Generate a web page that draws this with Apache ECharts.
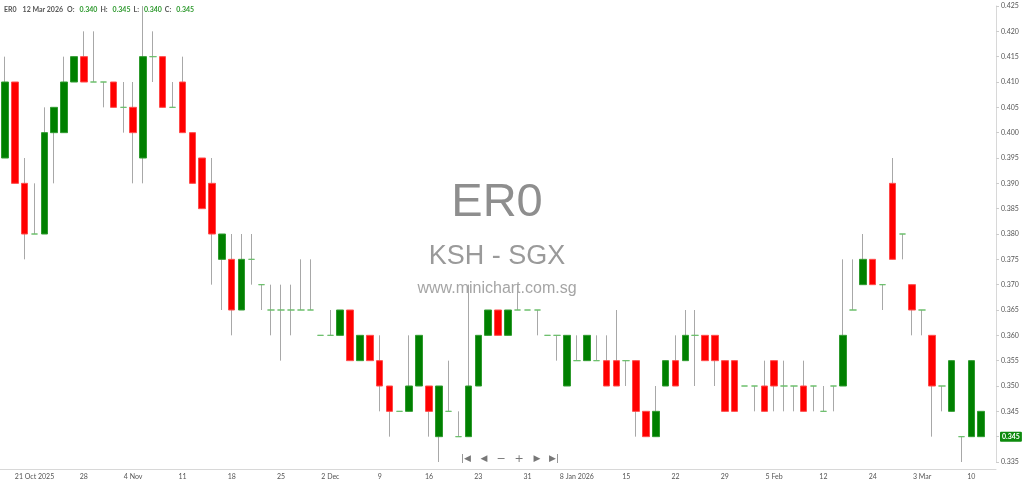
<!DOCTYPE html>
<html>
<head>
<meta charset="utf-8">
<title>ER0 KSH - SGX</title>
<script src="https://cdn.jsdelivr.net/npm/echarts@6.0.0/dist/echarts.min.js"></script>
<style>
  html, body { margin: 0; padding: 0; background: #fff; }
  #chart { width: 1024px; height: 484px; }
</style>
</head>
<body>
<div id="chart"></div>
<script>
// trading days (one candle each)
const dates = [
  '2025-10-15','2025-10-16','2025-10-17','2025-10-21','2025-10-22','2025-10-23','2025-10-24','2025-10-27','2025-10-28','2025-10-29',
  '2025-10-30','2025-10-31','2025-11-03','2025-11-04','2025-11-05','2025-11-06','2025-11-07','2025-11-10','2025-11-11','2025-11-12',
  '2025-11-13','2025-11-14','2025-11-17','2025-11-18','2025-11-19','2025-11-20','2025-11-21','2025-11-24','2025-11-25','2025-11-26',
  '2025-11-27','2025-11-28','2025-12-01','2025-12-02','2025-12-03','2025-12-04','2025-12-05','2025-12-08','2025-12-09','2025-12-10',
  '2025-12-11','2025-12-12','2025-12-15','2025-12-16','2025-12-17','2025-12-18','2025-12-19','2025-12-22','2025-12-23','2025-12-24',
  '2025-12-26','2025-12-29','2025-12-30','2025-12-31','2026-01-02','2026-01-05','2026-01-06','2026-01-07','2026-01-08','2026-01-09',
  '2026-01-12','2026-01-13','2026-01-14','2026-01-15','2026-01-16','2026-01-19','2026-01-20','2026-01-21','2026-01-22','2026-01-23',
  '2026-01-26','2026-01-27','2026-01-28','2026-01-29','2026-01-30','2026-02-02','2026-02-03','2026-02-04','2026-02-05','2026-02-06',
  '2026-02-09','2026-02-10','2026-02-11','2026-02-12','2026-02-13','2026-02-19','2026-02-20','2026-02-23','2026-02-24','2026-02-25',
  '2026-02-26','2026-02-27','2026-03-02','2026-03-03','2026-03-04','2026-03-05','2026-03-06','2026-03-09','2026-03-10','2026-03-11'
];

const opens = [
  0.395,0.410,0.390,0.380,0.380,0.400,0.400,0.410,0.415,0.410,
  0.410,0.410,0.405,0.405,0.395,0.415,0.415,0.405,0.410,0.400,
  0.395,0.390,0.375,0.375,0.365,0.375,0.370,0.365,0.365,0.365,
  0.365,0.365,0.360,0.360,0.360,0.365,0.355,0.360,0.355,0.350,
  0.345,0.345,0.350,0.350,0.340,0.345,0.340,0.340,0.350,0.360,
  0.365,0.360,0.365,0.365,0.365,0.360,0.360,0.350,0.355,0.355,
  0.355,0.355,0.355,0.355,0.355,0.345,0.340,0.350,0.355,0.355,
  0.360,0.360,0.360,0.355,0.355,0.350,0.350,0.350,0.355,0.350,
  0.350,0.350,0.350,0.345,0.350,0.350,0.365,0.370,0.375,0.370,
  0.390,0.380,0.370,0.365,0.360,0.350,0.345,0.340,0.340,0.340
];
const closes = [
  0.410,0.390,0.380,0.380,0.400,0.405,0.410,0.415,0.410,0.410,
  0.410,0.405,0.405,0.400,0.415,0.415,0.405,0.405,0.400,0.390,
  0.385,0.380,0.380,0.365,0.375,0.375,0.370,0.365,0.365,0.365,
  0.365,0.365,0.360,0.360,0.365,0.355,0.360,0.355,0.350,0.345,
  0.345,0.350,0.360,0.345,0.350,0.345,0.340,0.350,0.360,0.365,
  0.360,0.365,0.365,0.365,0.365,0.360,0.360,0.360,0.355,0.360,
  0.355,0.350,0.350,0.355,0.345,0.340,0.345,0.355,0.350,0.360,
  0.360,0.355,0.355,0.345,0.345,0.350,0.350,0.345,0.350,0.350,
  0.350,0.345,0.350,0.345,0.350,0.360,0.365,0.375,0.370,0.370,
  0.375,0.380,0.365,0.365,0.350,0.350,0.355,0.340,0.355,0.345
];
const lows = [
  0.395,0.390,0.375,0.380,0.380,0.390,0.400,0.410,0.410,0.410,
  0.405,0.405,0.400,0.390,0.390,0.410,0.405,0.405,0.400,0.390,
  0.385,0.370,0.365,0.360,0.365,0.370,0.365,0.360,0.355,0.360,
  0.365,0.365,0.360,0.360,0.360,0.355,0.355,0.355,0.345,0.340,
  0.345,0.345,0.350,0.340,0.335,0.345,0.340,0.340,0.350,0.360,
  0.360,0.360,0.365,0.365,0.360,0.360,0.355,0.350,0.355,0.355,
  0.355,0.350,0.350,0.350,0.340,0.340,0.340,0.350,0.350,0.355,
  0.350,0.355,0.350,0.345,0.345,0.350,0.345,0.345,0.345,0.345,
  0.345,0.345,0.345,0.345,0.345,0.350,0.365,0.370,0.370,0.365,
  0.375,0.375,0.360,0.360,0.340,0.345,0.345,0.335,0.340,0.340
];
const highs = [
  0.415,0.410,0.395,0.390,0.405,0.405,0.415,0.415,0.420,0.420,
  0.410,0.410,0.410,0.410,0.425,0.420,0.415,0.410,0.415,0.400,
  0.395,0.395,0.380,0.380,0.380,0.380,0.370,0.370,0.370,0.370,
  0.375,0.375,0.360,0.365,0.365,0.365,0.360,0.360,0.360,0.350,
  0.345,0.360,0.360,0.350,0.350,0.355,0.345,0.370,0.360,0.365,
  0.365,0.365,0.370,0.365,0.365,0.360,0.360,0.360,0.360,0.360,
  0.360,0.360,0.365,0.355,0.355,0.345,0.350,0.355,0.360,0.365,
  0.365,0.360,0.360,0.355,0.355,0.350,0.350,0.355,0.355,0.355,
  0.350,0.355,0.350,0.350,0.350,0.375,0.375,0.380,0.375,0.370,
  0.395,0.380,0.370,0.365,0.360,0.350,0.355,0.340,0.355,0.345
];

// x axis tick labels
const tickDates = [
  '2025-10-21','2025-10-28','2025-11-04','2025-11-11','2025-11-18','2025-11-25','2025-12-02','2025-12-09','2025-12-16','2025-12-23',
  '2025-12-31','2026-01-08','2026-01-15','2026-01-22','2026-01-29','2026-02-05','2026-02-12','2026-02-24','2026-03-03','2026-03-10'
];
const tickLabels = [
  '21 Oct 2025','28','4 Nov','11','18','25','2 Dec','9','16','23',
  '31','8 Jan 2026','15','22','29','5 Feb','12','24','3 Mar','10'
];

const symbol = 'ER0';
const exchange = 'KSH - SGX';
const site = 'www.minichart.com.sg';
const headerDate = '12 Mar 2026';

const labelByDate = {};
tickDates.forEach((d, i) => { labelByDate[d] = tickLabels[i]; });

// one empty slot after the last candle
const categories = dates.concat(['']);

const wickData = opens.map((o, i) => [o, closes[i], lows[i], highs[i]]);
const bodyData = opens.map((o, i) => [o, closes[i], Math.min(o, closes[i]), Math.max(o, closes[i])]);

const last = opens.length - 1;
const f3 = (v) => v.toFixed(3);
const showTick = (idx) => labelByDate[categories[idx]] !== undefined;

const FONT = 'Lato, "Open Sans", sans-serif';
const WM_FONT = '"Liberation Sans", Arial, sans-serif';
const navStyle = (text, size) => ({ text: text, font: size + 'px "DejaVu Sans"', fill: '#777', align: 'center', verticalAlign: 'middle' });

const chart = echarts.init(document.getElementById('chart'));
chart.setOption({
  animation: false,
  backgroundColor: '#fff',
  title: {
    left: 4,
    top: 6,
    padding: 0,
    text: '{s|' + symbol + '}{d|' + headerDate + '}{n|O:}{g|' + f3(opens[last]) + '}{n|H:}{g|' + f3(highs[last]) +
      '}{n|L:}{g|' + f3(lows[last]) + '}{n|C:}{g|' + f3(closes[last]) + '}',
    textStyle: {
      fontFamily: FONT,
      fontSize: 7,
      rich: {
        s: { color: '#555', fontSize: 7, fontFamily: FONT, padding: [0, 6, 0, 0] },
        d: { color: '#555', fontSize: 7, fontFamily: FONT, padding: [0, 4, 0, 0] },
        n: { color: '#555', fontSize: 7, fontFamily: FONT, padding: [0, 5, 0, 0] },
        g: { color: '#2f9a2f', fontSize: 7, fontFamily: FONT, padding: [0, 3, 0, 0] }
      }
    }
  },
  grid: { left: 0, right: 28, top: 6, bottom: 22 },
  xAxis: {
    type: 'category',
    data: categories,
    boundaryGap: true,
    offset: 7,
    axisLine: { lineStyle: { color: '#d8d8d8' } },
    axisTick: { interval: showTick, alignWithLabel: true, length: 3, lineStyle: { color: '#ccc' } },
    axisLabel: {
      interval: showTick,
      formatter: (v) => labelByDate[v] || '',
      fontSize: 7,
      fontFamily: FONT,
      color: '#555',
      margin: 4
    },
    splitLine: { show: false }
  },
  yAxis: {
    type: 'value',
    position: 'right',
    min: 0.335,
    max: 0.425,
    interval: 0.005,
    scale: true,
    axisLine: { show: true, lineStyle: { color: '#d8d8d8' } },
    axisTick: { show: true, length: 3, lineStyle: { color: '#ccc' } },
    axisLabel: {
      formatter: (v) => f3(v),
      fontSize: 7,
      fontFamily: FONT,
      color: '#555',
      margin: 5
    },
    splitLine: { show: false }
  },
  graphic: [
    { type: 'text', x: 497, y: 203, style: { text: symbol, font: '47px ' + WM_FONT, fill: '#8e8e8e', align: 'center', verticalAlign: 'middle' }, silent: true },
    { type: 'text', x: 497, y: 257, style: { text: exchange, font: '27px ' + WM_FONT, fill: '#9a9a9a', align: 'center', verticalAlign: 'middle' }, silent: true },
    { type: 'text', x: 497, y: 289, style: { text: site, font: '16px ' + WM_FONT, fill: '#a5a5a5', align: 'center', verticalAlign: 'middle' }, silent: true },
    { type: 'text', x: 466, y: 459, style: navStyle('|◀', 9), silent: true },
    { type: 'text', x: 484, y: 459, style: navStyle('◀', 9), silent: true },
    { type: 'text', x: 501, y: 459, style: navStyle('−', 11), silent: true },
    { type: 'text', x: 519, y: 459, style: navStyle('+', 11), silent: true },
    { type: 'text', x: 537, y: 459, style: navStyle('▶', 9), silent: true },
    { type: 'text', x: 554, y: 459, style: navStyle('▶|', 9), silent: true }
  ],
  series: [
    {
      // wicks (gray, thin)
      name: 'wick',
      type: 'candlestick',
      data: wickData,
      barWidth: 1,
      silent: true,
      itemStyle: {
        color: '#a8a8a8',
        color0: '#a8a8a8',
        borderColor: '#a8a8a8',
        borderColor0: '#a8a8a8',
        borderColorDoji: '#a8a8a8',
        borderWidth: 1
      }
    },
    {
      // bodies
      name: symbol,
      type: 'candlestick',
      data: bodyData,
      barWidth: 7,
      silent: true,
      itemStyle: {
        color: '#008000',
        color0: '#ff0000',
        borderColor: '#2e9a2e',
        borderColor0: '#ff4a4a',
        borderColorDoji: '#6cbf6c',
        borderWidth: 1
      }
    },
    {
      // last price tag on the price axis
      name: 'last',
      type: 'line',
      data: [],
      silent: true,
      markLine: {
        silent: true,
        symbol: ['none', 'none'],
        lineStyle: { color: 'rgba(0,0,0,0)', width: 0, type: 'solid' },
        data: [{ yAxis: closes[last] }],
        label: {
          show: true,
          position: 'end',
          distance: 4,
          formatter: () => f3(closes[last]),
          backgroundColor: '#0d8a0d',
          color: '#fff',
          fontSize: 7,
          fontWeight: 'bold',
          fontFamily: FONT,
          padding: [2, 2, 1, 2],
          borderRadius: 1
        }
      }
    }
  ]
});
</script>
</body>
</html>
